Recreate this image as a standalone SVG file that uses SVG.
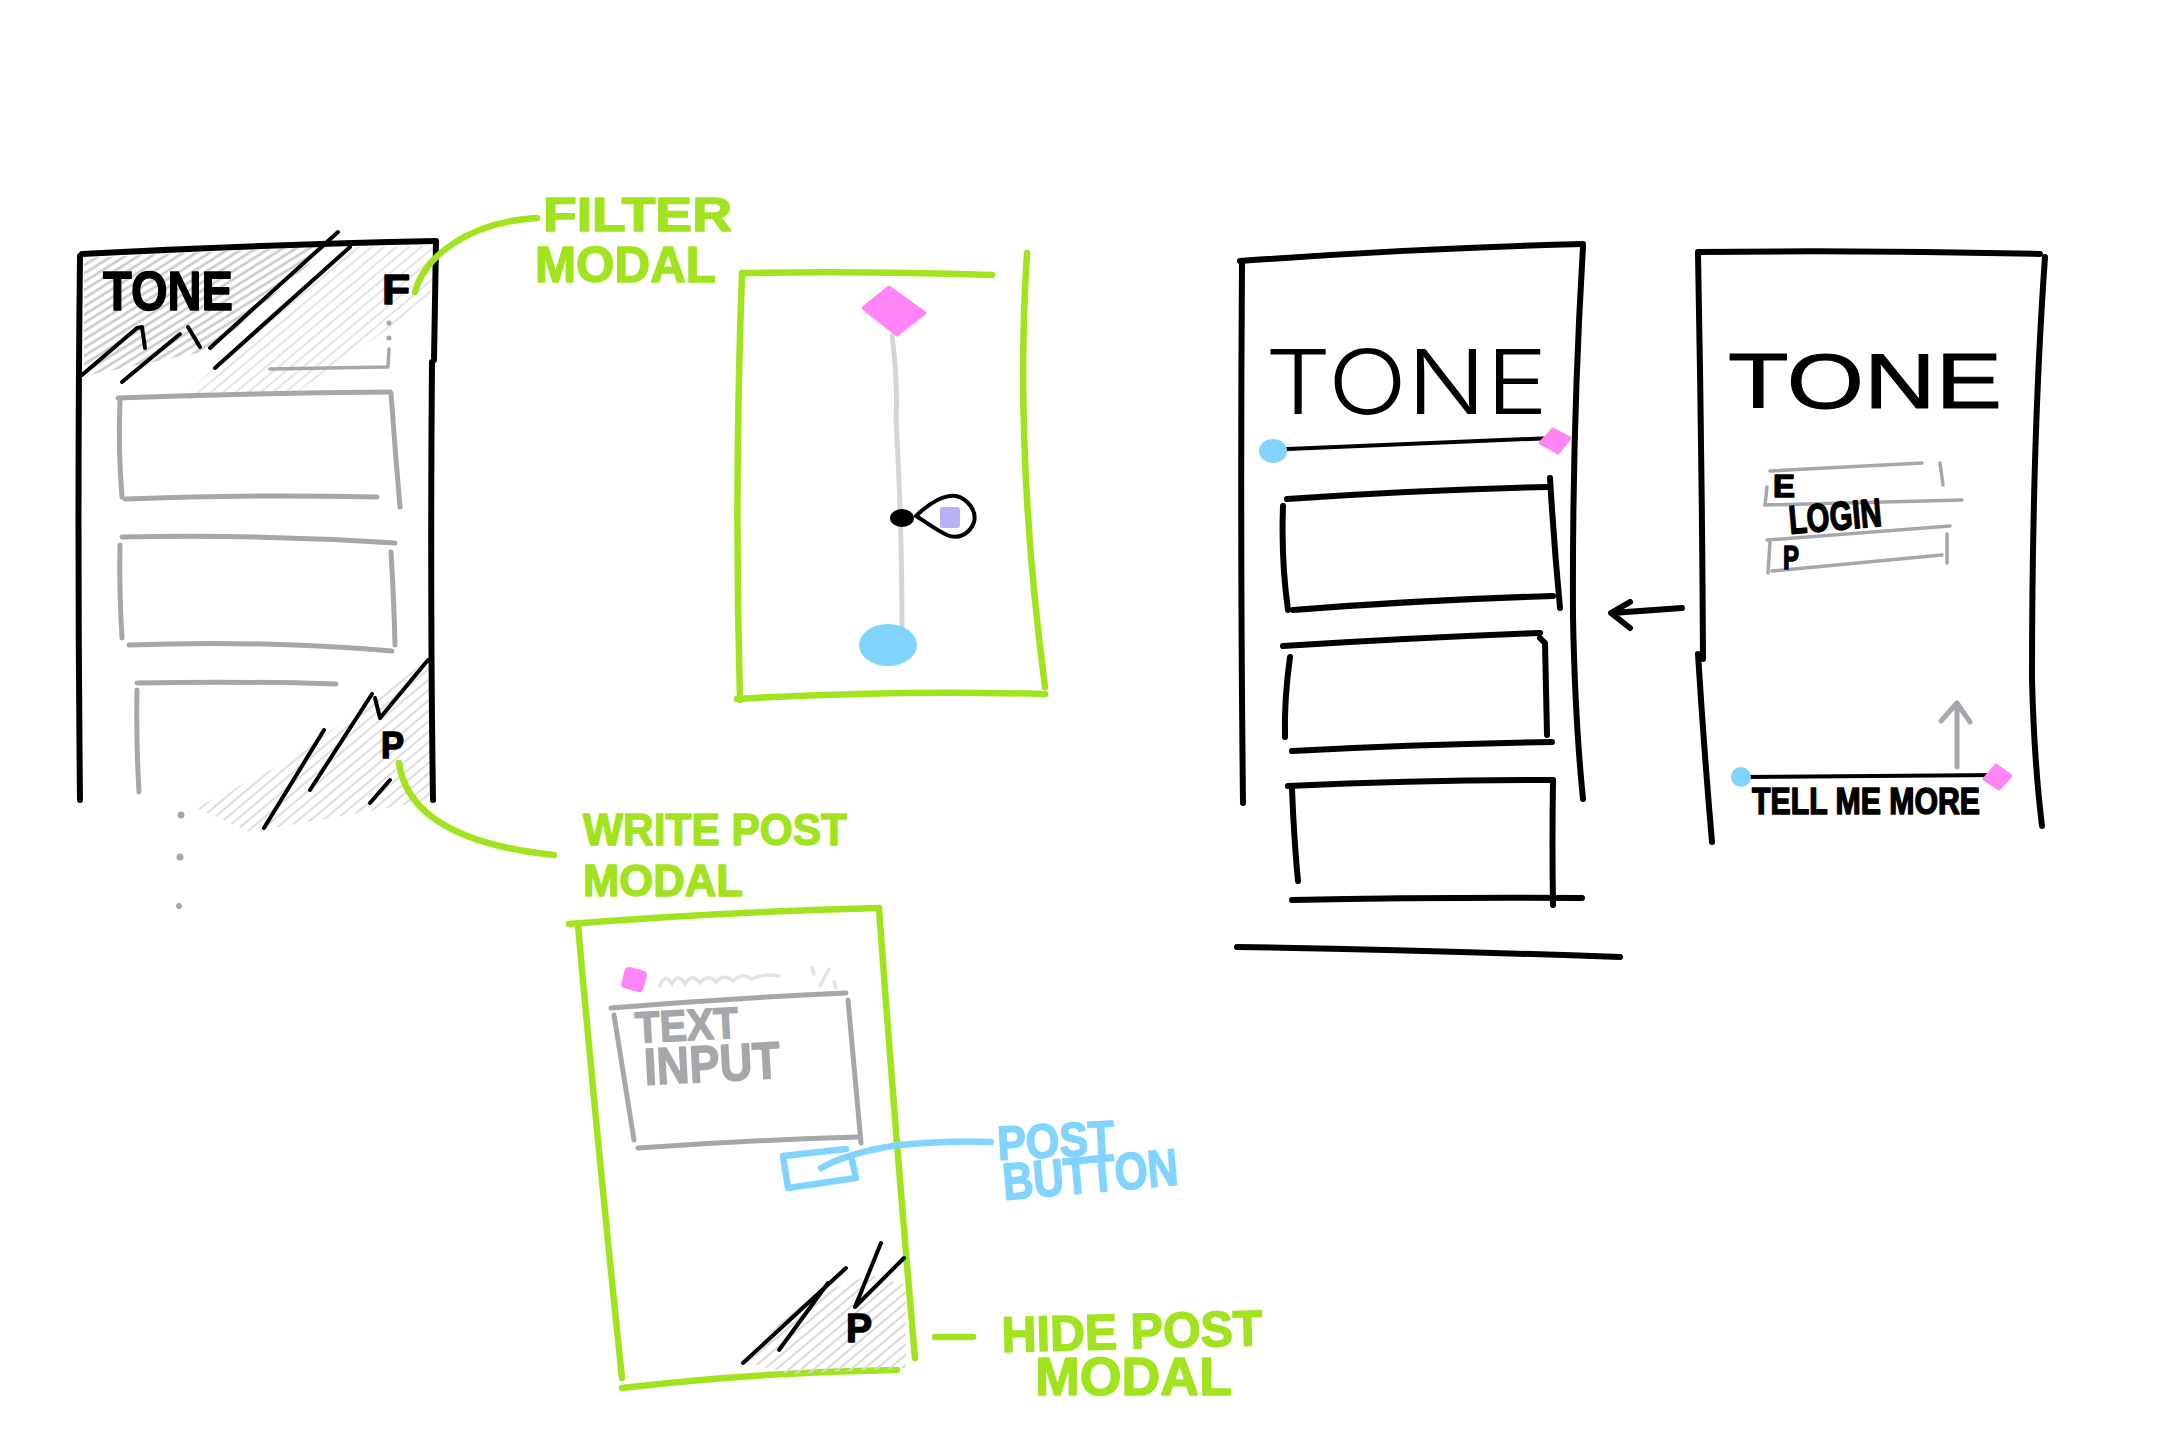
<svg xmlns="http://www.w3.org/2000/svg" width="2160" height="1440" viewBox="0 0 2160 1440">
<defs>
<pattern id="hatch" width="7" height="7" patternUnits="userSpaceOnUse" patternTransform="rotate(-32)">
<line x1="0" y1="3.5" x2="7" y2="3.5" stroke="#c4c4c4" stroke-width="2.6"/>
</pattern>
<pattern id="hatchLight" width="8" height="8" patternUnits="userSpaceOnUse" patternTransform="rotate(-40)">
<line x1="0" y1="4" x2="8" y2="4" stroke="#dadada" stroke-width="2.2"/>
</pattern>
<style>
.blk{fill:none;stroke:#000;stroke-width:6;stroke-linecap:round;stroke-linejoin:round}
.thin{fill:none;stroke:#000;stroke-width:4;stroke-linecap:round;stroke-linejoin:round}
.gry{fill:none;stroke:#a6a7aa;stroke-width:5;stroke-linecap:round;stroke-linejoin:round}
.gry3{fill:none;stroke:#a6a7aa;stroke-width:3.5;stroke-linecap:round;stroke-linejoin:round}
.grn{fill:none;stroke:#a2e31f;stroke-width:6.5;stroke-linecap:round;stroke-linejoin:round}
.blu{fill:none;stroke:#80d4fd;stroke-width:6.5;stroke-linecap:round;stroke-linejoin:round}
.lbl{font-family:"Liberation Sans",Arial,sans-serif;font-weight:bold;stroke-linejoin:round}
.lg{fill:#a2e31f;stroke:#a2e31f;stroke-width:1.5}
.lb{fill:#80d4fd;stroke:#80d4fd;stroke-width:1.5}
.lk{fill:#000;stroke:#000;stroke-width:1.5}
.lgr{fill:#a6a7aa;stroke:#a6a7aa;stroke-width:1.5}
.pink{fill:#ff85f6;stroke:#ff85f6;stroke-width:3;stroke-linejoin:round}
.bluef{fill:#80d4fd}
</style>
</defs>
<rect width="2160" height="1440" fill="#fff"/>

<g id="phone-feed">
<polygon points="84,258 330,246 212,350 84,376" fill="url(#hatch)" opacity="0.9"/>
<polygon points="216,366 350,247 436,246 430,300 300,390 180,400" fill="url(#hatchLight)" opacity="0.7"/>
<polygon points="196,808 290,760 428,660 431,800 330,818 250,832" fill="url(#hatchLight)" opacity="0.9"/>
<path class="blk" d="M82,254 Q250,245 436,241"/>
<path class="blk" d="M80,256 Q77,520 80,800"/>
<path class="blk" d="M436,242 L434,360 M432,362 Q430,600 433,800"/>
<path class="thin" d="M82,375 L137,328 L142,327 L145,348"/>
<path class="thin" d="M122,382 L180,334"/>
<path class="thin" d="M188,327 L200,347"/>
<path class="thin" d="M210,348 L338,232"/>
<path class="thin" d="M215,368 L350,247"/>
<text class="lbl lk" x="103" y="310" font-size="56" textLength="130" lengthAdjust="spacingAndGlyphs" stroke-width="3">TONE</text>
<text class="lbl lk" x="382" y="304" font-size="42" textLength="28" lengthAdjust="spacingAndGlyphs">F</text>
<circle cx="389" cy="323" r="2.5" fill="#a6a7aa"/>
<circle cx="389" cy="338" r="2.5" fill="#a6a7aa"/>
<path class="gry3" d="M389,349 L388,367 L270,369"/>
<path class="gry" d="M118,398 Q250,393 390,392"/>
<path class="gry" d="M120,400 Q118,450 122,497"/>
<path class="gry" d="M125,499 Q250,494 377,497"/>
<path class="gry" d="M391,393 Q395,450 400,507"/>
<path class="gry" d="M122,537 Q260,534 395,543"/>
<path class="gry" d="M120,545 Q119,590 122,638"/>
<path class="gry" d="M391,552 Q394,600 395,645"/>
<path class="gry" d="M129,645 Q260,640 392,651"/>
<path class="gry" d="M137,683 Q240,681 336,684"/>
<path class="gry" d="M137,690 Q136,740 139,792"/>
<circle cx="181" cy="815" r="3.5" fill="#a6a7aa"/>
<circle cx="180" cy="857" r="3.5" fill="#a6a7aa"/>
<circle cx="179" cy="906" r="3" fill="#a6a7aa"/>
<path class="thin" d="M264,828 L324,730"/>
<path class="thin" d="M310,790 L372,694"/>
<path class="thin" d="M375,698 L380,718 L428,660"/>
<path class="thin" d="M370,803 L390,780"/>
<text class="lbl lk" x="381" y="758" font-size="36" textLength="23" lengthAdjust="spacingAndGlyphs">P</text>
</g>

<g id="filter-modal">
<path class="grn" d="M742,273 Q870,271 992,275"/>
<path class="grn" d="M742,273 Q734,490 740,700"/>
<path class="grn" d="M737,699 Q890,690 1045,694"/>
<path class="grn" d="M1027,253 Q1014,450 1045,687"/>
<path d="M892,336 Q898,380 896,420 Q902,520 902,632" fill="none" stroke="#d3d4d6" stroke-width="5" stroke-linecap="round"/>
<polygon class="pink" points="863,308 889,287 925,313 897,335"/>
<ellipse cx="902" cy="518" rx="12" ry="9" fill="#000"/>
<rect x="940" y="507" width="20" height="21" rx="3" fill="#b7b1f7"/>
<path class="thin" stroke-width="4.5" d="M916,516 C930,502 946,494 956,496 C968,499 977,511 974,522 C970,534 958,540 947,535 C936,530 926,522 916,516 Z"/>
<ellipse class="bluef" cx="888" cy="645" rx="29" ry="21"/>
</g>

<g id="write-post-modal">
<path class="grn" d="M569,924 Q720,912 879,908"/>
<path class="grn" d="M578,925 Q598,1150 622,1378"/>
<path class="grn" d="M879,908 Q895,1130 915,1358"/>
<path class="grn" d="M622,1388 Q760,1372 897,1370"/>
<rect class="pink" x="624" y="970" width="20" height="19" rx="3" transform="rotate(15 634 980)"/>
<path d="M660,986 Q665,972 672,984 Q678,972 685,984 Q692,972 700,983 Q708,973 716,982 Q724,973 733,981 Q742,972 752,979 Q762,973 779,976" fill="none" stroke="#e3e3e3" stroke-width="3.5" stroke-linecap="round"/>
<path d="M812,968 L814,974 M829,969 L820,986 M834,982 L836,988" fill="none" stroke="#e3e3e3" stroke-width="3.5" stroke-linecap="round"/>
<path class="gry" d="M611,1008 Q730,998 846,993"/>
<path class="gry" d="M614,1015 L634,1140"/>
<path class="gry" d="M638,1148 Q750,1140 859,1137"/>
<path class="gry" d="M848,1000 L861,1143"/>
<text class="lbl lgr" x="636" y="1043" font-size="44" textLength="103" lengthAdjust="spacingAndGlyphs" transform="rotate(-3 636 1043)">TEXT</text>
<text class="lbl lgr" x="645" y="1085" font-size="52" textLength="136" lengthAdjust="spacingAndGlyphs" transform="rotate(-3 645 1085)">INPUT</text>
<path class="blu" d="M783,1156 L846,1149 M852,1160 L856,1178 L788,1188 L783,1156"/>
<polygon points="745,1362 800,1300 870,1275 906,1285 906,1368 790,1374" fill="url(#hatchLight)"/>
<path class="thin" d="M743,1363 L846,1268"/>
<path class="thin" d="M779,1350 L828,1283"/>
<path class="thin" d="M881,1243 L855,1307 L904,1258"/>
<text class="lbl lk" x="846" y="1342" font-size="40" textLength="26" lengthAdjust="spacingAndGlyphs">P</text>
</g>

<g id="phone-home">
<path class="blk" d="M1240,261 Q1420,248 1583,244"/>
<path class="blk" d="M1242,261 Q1240,540 1243,803"/>
<path class="blk" d="M1583,247 Q1572,430 1573,617 Q1575,720 1583,799"/>
<text x="1265" y="414" font-family="Inter,'Liberation Sans',sans-serif" font-weight="300" font-size="90" textLength="283" lengthAdjust="spacingAndGlyphs" fill="#000">TONE</text>
<path class="thin" d="M1262,450 L1553,438"/>
<ellipse class="bluef" cx="1273" cy="451" rx="14" ry="12"/>
<polygon class="pink" points="1540,443 1553,429 1570,438 1558,453"/>
<path class="blk" d="M1287,499 Q1420,490 1548,487"/>
<path class="blk" d="M1283,506 Q1281,560 1288,610"/>
<path class="blk" d="M1293,610 Q1420,600 1553,596"/>
<path class="blk" d="M1550,478 Q1554,545 1560,608"/>
<path class="blk" d="M1283,646 Q1410,638 1540,633"/>
<path class="blk" d="M1290,657 Q1284,700 1285,737"/>
<path class="blk" d="M1540,638 L1545,643 Q1546,690 1547,735"/>
<path class="blk" d="M1292,751 Q1420,744 1552,742"/>
<path class="blk" d="M1288,786 Q1420,780 1553,780"/>
<path class="blk" d="M1292,789 Q1294,840 1298,881"/>
<path class="blk" d="M1553,782 Q1552,840 1553,905"/>
<path class="blk" d="M1292,900 Q1440,897 1582,898"/>
<path class="blk" d="M1237,947 Q1420,950 1620,957"/>
</g>

<g id="phone-login">
<path class="blk" d="M1698,252 Q1870,250 2040,254"/>
<path class="blk" d="M1698,254 Q1702,460 1703,659"/>
<path class="blk" d="M1698,654 Q1704,750 1712,842"/>
<path class="blk" d="M2045,257 Q2032,440 2032,679 Q2034,760 2042,826"/>
<text x="1728" y="408" font-family="'Liberation Sans',Arial,sans-serif" font-size="78" textLength="274" lengthAdjust="spacingAndGlyphs" fill="#000" stroke="#000" stroke-width="1">TONE</text>
<path class="gry3" d="M1770,471 L1922,463 M1940,463 L1943,485"/>
<path class="gry3" d="M1767,487 L1765,505 L1962,500"/>
<path class="gry3" d="M1767,540 L1950,526 M1947,534 L1947,563"/>
<path class="gry3" d="M1770,542 L1768,573 M1772,571 L1942,555"/>
<text class="lbl lk" x="1773" y="497" font-size="32" textLength="22" lengthAdjust="spacingAndGlyphs" font-weight="normal" stroke-width="1">E</text>
<text class="lbl lk" x="1790" y="534" font-size="40" textLength="93" lengthAdjust="spacingAndGlyphs" transform="rotate(-5 1790 534)">LOGIN</text>
<text class="lbl lk" x="1783" y="569" font-size="33" textLength="16" lengthAdjust="spacingAndGlyphs" font-weight="normal" stroke-width="1">P</text>
<path class="gry" d="M1957,767 L1957,703 M1941,721 L1957,703 L1970,722"/>
<path class="thin" d="M1740,777 L2000,775"/>
<circle class="bluef" cx="1741" cy="777" r="10"/>
<polygon class="pink" points="1984,779 1996,765 2011,776 1999,789"/>
<text class="lbl lk" x="1752" y="814" font-size="36" textLength="228" lengthAdjust="spacingAndGlyphs">TELL ME MORE</text>
</g>

<g id="labels">
<text class="lbl lg" x="543" y="231" font-size="48" textLength="189" lengthAdjust="spacingAndGlyphs">FILTER</text>
<text class="lbl lg" x="535" y="282" font-size="50" textLength="181" lengthAdjust="spacingAndGlyphs">MODAL</text>
<text class="lbl lg" x="583" y="845" font-size="45" textLength="264" lengthAdjust="spacingAndGlyphs">WRITE POST</text>
<text class="lbl lg" x="583" y="896" font-size="45" textLength="160" lengthAdjust="spacingAndGlyphs">MODAL</text>
<text class="lbl lb" x="998" y="1160" font-size="48" textLength="117" lengthAdjust="spacingAndGlyphs" transform="rotate(-3 998 1160)">POST</text>
<text class="lbl lb" x="1004" y="1200" font-size="52" textLength="176" lengthAdjust="spacingAndGlyphs" transform="rotate(-5 1004 1200)">BUTTON</text>
<text class="lbl lg" x="1002" y="1352" font-size="50" textLength="261" lengthAdjust="spacingAndGlyphs" transform="rotate(-1.5 1002 1352)">HIDE POST</text>
<text class="lbl lg" x="1035" y="1395" font-size="54" textLength="197" lengthAdjust="spacingAndGlyphs">MODAL</text>
</g>

<g id="connectors">
<path class="grn" d="M415,292 C425,255 470,222 537,218"/>
<path class="grn" d="M399,763 Q410,840 554,855"/>
<path class="blu" d="M821,1168 Q850,1152 899,1145 Q950,1140 991,1142"/>
<path class="grn" d="M935,1337 L973,1337"/>
<path class="blk" d="M1682,608 L1612,613 M1630,602 L1611,613 L1630,628"/>
</g>
</svg>
